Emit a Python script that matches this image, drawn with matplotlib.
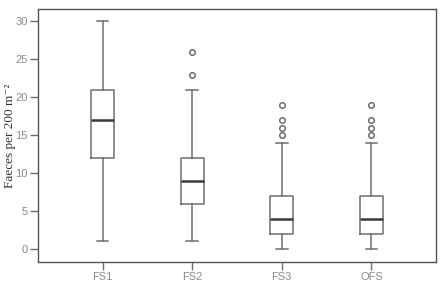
import matplotlib
matplotlib.use("Agg")
import matplotlib.pyplot as plt

# group labels and box statistics
groups = ["FS1", "FS2", "FS3", "OFS"]
whislo = [1, 1, 0, 0]
q1 = [12, 6, 2, 2]
med = [17, 9, 4, 4]
q3 = [21, 12, 7, 7]
whishi = [30, 21, 14, 14]
fliers = [[], [23, 26], [15, 16, 17, 19], [15, 16, 17, 19]]

stats = []
for i, g in enumerate(groups):
    stats.append(dict(label=g, whislo=whislo[i], q1=q1[i], med=med[i],
                      q3=q3[i], whishi=whishi[i], fliers=fliers[i]))

grey = "#6e6e6e"
fig = plt.figure(figsize=(4.43, 2.84), dpi=100)
ax = fig.add_axes([0.086, 0.0775, 0.898, 0.89])

ax.bxp(stats, positions=range(1, 5), widths=0.26, showfliers=True,
       boxprops=dict(color=grey, linewidth=1.1),
       whiskerprops=dict(color=grey, linewidth=1.1),
       capprops=dict(color=grey, linewidth=1.1),
       medianprops=dict(color="#3a3a3a", linewidth=1.8),
       flierprops=dict(marker="o", markersize=4, markerfacecolor="none",
                       markeredgecolor=grey, markeredgewidth=1.1),
       capwidths=0.13)

ax.set_xlim(0.28, 4.72)
ax.set_ylim(-1.7, 31.6)
ax.set_yticks([0, 5, 10, 15, 20, 25, 30])

for s in ax.spines.values():
    s.set_color("#555555")
    s.set_linewidth(1.0)

ax.tick_params(colors=grey, labelcolor="#8a8a8a", labelsize=8, length=6,
               width=1.0, pad=1.5)
for lab in ax.get_xticklabels() + ax.get_yticklabels():
    lab.set_family("Liberation Sans")

ax.set_ylabel("Faeces per 200 m\u207b\u00b2",
              family=["Liberation Serif", "DejaVu Serif"],
              fontsize=9.5, color="#333333")
ax.yaxis.set_label_coords(-0.055, 0.5)

fig.savefig("out.png", dpi=100)
